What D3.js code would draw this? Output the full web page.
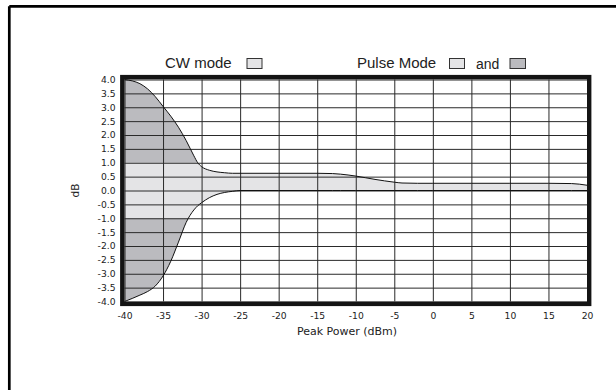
<!DOCTYPE html>
<html>
<head>
<meta charset="utf-8">
<script src="https://cdn.jsdelivr.net/npm/d3@7"></script>
<style>
  html, body { margin: 0; padding: 0; background: #fff; }
  svg { display: block; }
  text { font-family: "DejaVu Sans", sans-serif; fill: #222; }
</style>
</head>
<body>
<svg id="chart" width="616" height="390"></svg>
<script>
// Peak power sweep (dBm) and the tolerance envelope (dB) around it
const power = [-40, -39, -38, -37, -36, -35, -34, -33, -32, -31, -30.5, -30, -29, -28, -27, -26, -25,
               -20, -15, -13, -12, -10, -7.5, -5, -4, -2, 0, 5, 10, 15, 18, 20];
const upperDb = [4.0, 3.95, 3.85, 3.66, 3.38, 3.03, 2.68, 2.28, 1.8, 1.25, 1.0, 0.86, 0.73, 0.67, 0.64, 0.62, 0.62,
                 0.62, 0.62, 0.61, 0.59, 0.52, 0.4, 0.3, 0.27, 0.26, 0.26, 0.26, 0.26, 0.26, 0.25, 0.19];
const lowerDb = [-4.0, -3.89, -3.77, -3.64, -3.44, -3.08, -2.55, -1.86, -1.15, -0.7, -0.55, -0.44, -0.26, -0.14, -0.07, -0.03, 0,
                 0, 0, 0, 0, 0, 0, 0, 0, 0, 0, 0, 0, 0, 0, 0];

const xTicks = [-40, -35, -30, -25, -20, -15, -10, -5, 0, 5, 10, 15, 20];
const yTicks = [4.0, 3.5, 3.0, 2.5, 2.0, 1.5, 1.0, 0.5, 0.0, -0.5, -1.0, -1.5, -2.0, -2.5, -3.0, -3.5, -4.0];
const xTickLabels = ["-40", "-35", "-30", "-25", "-20", "-15", "-10", "-5", "0", "5", "10", "15", "20"];
const yTickLabels = ["4.0", "3.5", "3.0", "2.5", "2.0", "1.5", "1.0", "0.5", "0.0", "-0.5", "-1.0", "-1.5",
                     "-2.0", "-2.5", "-3.0", "-3.5", "-4.0"];

const cwLabel = "CW mode";
const pulseLabel = "Pulse Mode";
const andLabel = "and";
const xTitle = "Peak Power (dBm)";
const yTitle = "dB";

const lightFill = "#e4e4e6";
const darkFill = "#bbbbbf";

const svg = d3.select("#chart");

// page border (top and left rules)
svg.append("line").attr("x1", 9.3).attr("y1", 6.3).attr("x2", 616).attr("y2", 6.3)
  .attr("stroke", "#000").attr("stroke-width", 2.7);
svg.append("line").attr("x1", 9.3).attr("y1", 6.3).attr("x2", 9.3).attr("y2", 390)
  .attr("stroke", "#000").attr("stroke-width", 2.7);

const plotL = 124.5, plotR = 587, plotT = 79.5, plotB = 301.5;
const x = d3.scaleLinear().domain([-40, 20]).range([plotL, plotR]);
const y = d3.scaleLinear().domain([-4, 4]).range([plotB, plotT]);

const pts = power.map((p, i) => ({ p, hi: upperDb[i], lo: lowerDb[i] }));

const area = d3.area()
  .x(d => x(d.p))
  .y0(d => y(d.lo))
  .y1(d => y(d.hi))
  .curve(d3.curveMonotoneX);

const defs = svg.append("defs");
defs.append("clipPath").attr("id", "inner")
  .append("rect").attr("x", plotL).attr("y", y(1)).attr("width", plotR - plotL).attr("height", y(-1) - y(1));
const outerClip = defs.append("clipPath").attr("id", "outer");
outerClip.append("rect").attr("x", plotL).attr("y", plotT - 5).attr("width", plotR - plotL).attr("height", y(1) - plotT + 5);
outerClip.append("rect").attr("x", plotL).attr("y", y(-1)).attr("width", plotR - plotL).attr("height", plotB - y(-1) + 5);

// CW band (within ±1 dB) and the wider pulse-mode band beyond it
svg.append("path").datum(pts).attr("d", area).attr("fill", lightFill).attr("clip-path", "url(#inner)");
svg.append("path").datum(pts).attr("d", area).attr("fill", darkFill).attr("clip-path", "url(#outer)");

// grid via axes
const gx = svg.append("g").attr("transform", `translate(0,${plotB})`)
  .call(d3.axisBottom(x).tickValues(xTicks).tickSize(-(plotB - plotT)).tickPadding(11)
    .tickFormat((d, i) => xTickLabels[i]));
const gy = svg.append("g").attr("transform", `translate(${plotL},0)`)
  .call(d3.axisLeft(y).tickValues(yTicks).tickSize(-(plotR - plotL)).tickPadding(9)
    .tickFormat((d, i) => yTickLabels[i]));
[gx, gy].forEach(g => {
  g.select(".domain").remove();
  g.selectAll(".tick line").attr("stroke", "#2a2a2a").attr("stroke-width", 1);
  g.selectAll(".tick text").attr("fill", "#333").style("font-size", "9.2px")
    .style("font-family", "'DejaVu Sans', sans-serif");
});

// envelope outlines
const lineHi = d3.line().x(d => x(d.p)).y(d => y(d.hi)).curve(d3.curveMonotoneX);
const lineLo = d3.line().x(d => x(d.p)).y(d => y(d.lo)).curve(d3.curveMonotoneX);
svg.append("path").datum(pts).attr("d", lineHi).attr("fill", "none").attr("stroke", "#111").attr("stroke-width", 1);
svg.append("path").datum(pts).attr("d", lineLo).attr("fill", "none").attr("stroke", "#111").attr("stroke-width", 1);

// heavy plot frame
svg.append("rect")
  .attr("x", plotL - 2.2).attr("y", plotT - 2.4)
  .attr("width", plotR - plotL + 4.4).attr("height", plotB - plotT + 4.8)
  .attr("fill", "none").attr("stroke", "#141414").attr("stroke-width", 4.4);

// axis titles
svg.append("text").attr("x", 347).attr("y", 335)
  .attr("text-anchor", "middle").style("font-size", "11px").text(xTitle);
svg.append("text").attr("transform", "translate(79,190.5) rotate(-90)")
  .attr("text-anchor", "middle").style("font-size", "10.5px").text(yTitle);

// legend
const legendFont = "'Liberation Sans', Arial, sans-serif";
svg.append("text").attr("x", 165).attr("y", 67.5).style("font-family", legendFont)
  .style("font-size", "15px").text(cwLabel);
svg.append("rect").attr("x", 247).attr("y", 58.5).attr("width", 15).attr("height", 10)
  .attr("fill", lightFill).attr("stroke", "#333").attr("stroke-width", 1);
svg.append("text").attr("x", 357).attr("y", 67.5).style("font-family", legendFont)
  .style("font-size", "15px").text(pulseLabel);
svg.append("rect").attr("x", 449.5).attr("y", 58.5).attr("width", 15).attr("height", 10)
  .attr("fill", lightFill).attr("stroke", "#333").attr("stroke-width", 1);
svg.append("text").attr("x", 476).attr("y", 69).style("font-family", legendFont)
  .style("font-size", "14px").text(andLabel);
svg.append("rect").attr("x", 510).attr("y", 58.5).attr("width", 15.5).attr("height", 10)
  .attr("fill", darkFill).attr("stroke", "#333").attr("stroke-width", 1);
</script>
</body>
</html>
